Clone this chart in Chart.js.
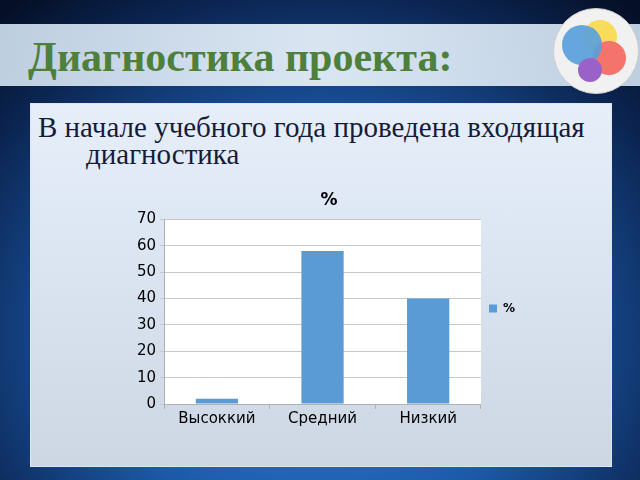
<!DOCTYPE html>
<html lang="ru">
<head>
<meta charset="UTF-8">
<title>Диагностика проекта</title>
<script src="https://cdn.jsdelivr.net/npm/chart.js"></script>
<style>
    html, body { margin: 0; padding: 0; }
    body {
        width: 640px; height: 480px; overflow: hidden; position: relative;
        background: radial-gradient(ellipse 75% 90% at 50% 70%, #2f7fd6 0%, #1c5aa8 45%, #0b2552 80%, #050f26 100%);
    }
    .band {
        position: absolute; left: 0; top: 24px; width: 640px; height: 62px;
        background: linear-gradient(90deg, rgba(205,222,238,0.92), rgba(228,238,248,0.95) 50%, rgba(205,222,238,0.92));
    }
    .title {
        position: absolute; left: 28px; top: 33px;
        font-family: "Liberation Serif", serif; font-weight: bold; font-size: 42px;
        color: #4f7f3c; white-space: nowrap;
    }
    .panel {
        position: absolute; left: 30px; top: 103px; width: 580px; height: 362px;
        background: linear-gradient(180deg, #e6eef9 0%, #dce6f3 40%, #cdd7e4 100%);
        border: 1px solid #dfe6ef;
    }
    .text {
        position: absolute; left: 38px; top: 114px; width: 560px;
        font-family: "Liberation Serif", serif; font-size: 29px; line-height: 27px;
        color: #161c38; padding-left: 48px; text-indent: -48px;
    }
    .logo {
        position: absolute; left: 553px; top: 8px; width: 84px; height: 84px;
        border-radius: 50%; background: #f1f1f1; border: 1px solid #cfcfcf;
    }
    .logo div { position: absolute; border-radius: 50%; }
    .box { position: absolute; left: 133px; top: 188px; width: 392px; height: 241px; }
</style>
</head>
<body>
    <div class="band"></div>
    <div class="title">Диагностика проекта:</div>
    <div class="logo">
        <div style="left:29px;top:11px;width:34px;height:34px;background:#f9dc5c;"></div>
        <div style="left:38px;top:32px;width:34px;height:34px;background:#f4746c;"></div>
        <div style="left:8px;top:16px;width:40px;height:40px;background:rgba(90,160,220,0.92);"></div>
        <div style="left:24px;top:49px;width:24px;height:24px;background:#9a62c8;"></div>
    </div>
    <div class="panel"></div>
    <div class="text">В начале учебного года проведена входящая диагностика</div>
    <div class="box"><canvas id="myChart"></canvas></div>
<script>
    const categories = ['Высоккий', 'Средний', 'Низкий'];
    const values = [2, 58, 40];
    const seriesName = '%';

    const plotBg = {
        id: 'plotBg',
        beforeDraw(chart) {
            const a = chart.chartArea;
            chart.ctx.save();
            chart.ctx.fillStyle = '#ffffff';
            chart.ctx.fillRect(a.left, a.top, a.right - a.left, a.bottom - a.top);
            chart.ctx.restore();
        }
    };

    Chart.defaults.font.family = '"DejaVu Sans", sans-serif';
    Chart.defaults.color = '#000';

    const ctx = document.querySelector('#myChart');
    const myChart = new Chart(ctx, {
        type: 'bar',
        data: {
            labels: categories,
            datasets: [{
                label: seriesName,
                data: values,
                backgroundColor: '#5b9bd5',
                categoryPercentage: 0.4,
                barPercentage: 1
            }]
        },
        options: {
            responsive: true,
            maintainAspectRatio: false,
            animation: false,
            layout: { padding: { left: 0, right: 0, top: 0, bottom: 0 } },
            plugins: {
                title: {
                    display: true, text: '%',
                    font: { size: 17, weight: 'bold' },
                    padding: { top: 2, bottom: 9 }
                },
                legend: {
                    position: 'right',
                    labels: { boxWidth: 8, boxHeight: 8, font: { size: 12, weight: 'bold' }, padding: 8 }
                },
                tooltip: { enabled: false }
            },
            scales: {
                x: {
                    grid: { display: true, drawOnChartArea: false, offset: true, color: '#b0b0b0', tickLength: 5 },
                    border: { color: '#b0b0b0' },
                    ticks: { font: { size: 15 }, padding: 1 }
                },
                y: {
                    min: 0, max: 70,
                    ticks: { stepSize: 10, font: { size: 15 }, padding: 4 },
                    grid: { color: '#c8c8c8', tickLength: 4 },
                    border: { color: '#b0b0b0' }
                }
            }
        },
        plugins: [plotBg]
    });
</script>
</body>
</html>
